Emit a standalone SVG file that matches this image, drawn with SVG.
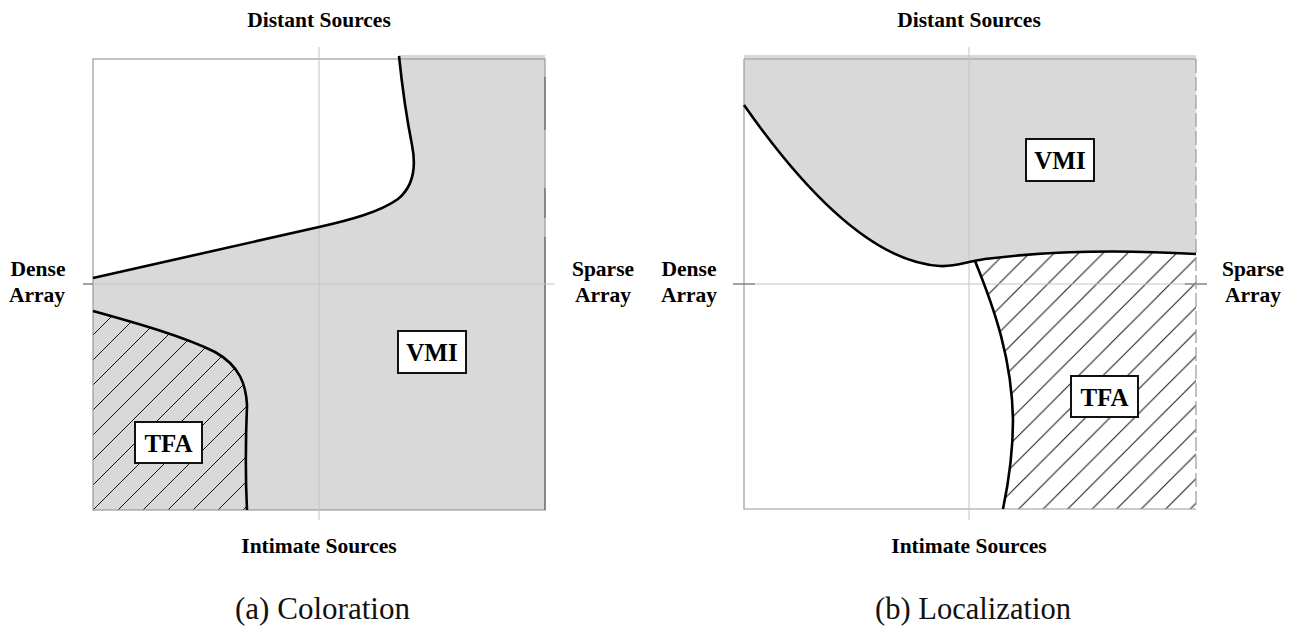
<svg xmlns="http://www.w3.org/2000/svg" width="1299" height="627" viewBox="0 0 1299 627">
<style>
.lbl{font-family:"Liberation Serif","Times New Roman",serif;font-weight:bold;font-size:21.5px;fill:#000;text-anchor:middle}
.tag{font-family:"Liberation Serif","Times New Roman",serif;font-weight:bold;font-size:25px;fill:#000;text-anchor:middle}
.cap{font-family:"Liberation Serif","Times New Roman",serif;font-size:31px;fill:#111;text-anchor:middle}
.frame{fill:none;stroke:#9a9a9a;stroke-width:1.2}
.axis{stroke:#c4c4c4;stroke-width:1;fill:none}
.tick{stroke:#777;stroke-width:1.2}
.gray{fill:#d9d9d9}
.bound{fill:none;stroke:#000;stroke-width:2.6;stroke-linecap:butt}
.box{fill:#fff;stroke:#111;stroke-width:2}
</style>
<defs>
<pattern id="hatchA" patternUnits="userSpaceOnUse" width="25" height="25" patternTransform="translate(3,0)">
<path d="M-5,5 L5,-5 M0,25 L25,0 M20,30 L30,20" stroke="#111" stroke-width="1"/>
</pattern>
<pattern id="hatchB" patternUnits="userSpaceOnUse" width="24.5" height="24.5" patternTransform="translate(8.7,0)">
<path d="M-5,5 L5,-5 M0,24.5 L24.5,0 M19.5,29.5 L29.5,19.5" stroke="#111" stroke-width="1"/>
</pattern>
</defs>
<rect width="1299" height="627" fill="#fff"/>

<!-- Plot (a) -->
<g id="plot-a">
  <g id="a-vmi-region">
    <path class="gray" d="M399,56 C402,85 407,120 412,145 C416,165 415,185 398,199 C380,212 350,220 319,227 L93,278 L93,510 L545,510 L545,55 L399,55 Z"/>
  </g>
  <g id="a-tfa-region">
    <path class="gray" d="M93,311 C140,324 185,337 215,352 C240,366 246,385 247,405 C246,430 245,470 247,510 L93,510 Z"/>
    <path fill="url(#hatchA)" d="M93,311 C140,324 185,337 215,352 C240,366 246,385 247,405 C246,430 245,470 247,510 L93,510 Z"/>
  </g>
  <rect class="frame" x="93" y="59" width="452" height="451"/>
  <path d="M545,77 V130 M545,188 V218 M545,237 V267 M545,267 V510" stroke="#666" stroke-width="1.2"/>
  <g id="a-axes">
    <line class="axis" x1="83" y1="284" x2="555" y2="284"/>
    <line class="axis" x1="319" y1="47" x2="319" y2="520"/>
    <line class="tick" x1="83" y1="284" x2="93" y2="284"/>
  </g>
  <g id="a-boundaries">
    <path class="bound" d="M399,56 C402,85 407,120 412,145 C416,165 415,185 398,199 C380,212 350,220 319,227 L93,278"/>
    <path class="bound" d="M93,311 C140,324 185,337 215,352 C240,366 246,385 247,405 C246,430 245,470 247,510"/>
  </g>
  <g id="a-vmi-label">
    <rect class="box" x="398" y="331" width="68" height="42"/>
    <text class="tag" x="432" y="361">VMI</text>
  </g>
  <g id="a-tfa-label">
    <rect class="box" x="135" y="422" width="67" height="41"/>
    <text class="tag" x="168.5" y="451.5">TFA</text>
  </g>
  <g id="a-texts">
    <text class="lbl" x="319" y="27">Distant Sources</text>
    <text class="lbl" x="319" y="553">Intimate Sources</text>
    <text class="lbl" x="38" y="276">Dense</text>
    <text class="lbl" x="37" y="302">Array</text>
    <text class="lbl" x="603" y="276">Sparse</text>
    <text class="lbl" x="603" y="302">Array</text>
    <text class="cap" x="322.5" y="619" textLength="175" lengthAdjust="spacingAndGlyphs">(a) Coloration</text>
  </g>
</g>

<!-- Plot (b) -->
<g id="plot-b">
  <g id="b-vmi-region">
    <path class="gray" d="M744,105 C800,185 870,262 940,266 C955,267 965,262 985,259 C1040,252 1110,249 1196,254 L1196,55 L744,55 Z"/>
  </g>
  <g id="b-tfa-region">
    <path fill="url(#hatchB)" d="M975,261 C995,310 1012,360 1013,420 C1013,455 1008,485 1003,509 L1196,509 L1196,254 C1110,249 1040,252 985,259 Z"/>
  </g>
  <path class="frame" d="M744,59 H1196 M744,59 V509 H1196"/>
  <line x1="1196" y1="59" x2="1196" y2="509" stroke="#9a9a9a" stroke-width="1.2" stroke-dasharray="14,4"/>
  <g id="b-axes">
    <line class="axis" x1="733" y1="284" x2="1207" y2="284"/>
    <line class="axis" x1="969" y1="47" x2="969" y2="520"/>
    <line class="tick" x1="733" y1="284" x2="755" y2="284"/>
    <line class="tick" x1="1185" y1="284" x2="1207" y2="284"/>
  </g>
  <g id="b-boundaries">
    <path class="bound" d="M744,105 C800,185 870,262 940,266 C955,267 965,262 985,259 C1040,252 1110,249 1196,254"/>
    <path class="bound" d="M975,261 C995,310 1012,360 1013,420 C1013,455 1008,485 1003,509"/>
  </g>
  <g id="b-vmi-label">
    <rect class="box" x="1026" y="139" width="68" height="42"/>
    <text class="tag" x="1060" y="169">VMI</text>
  </g>
  <g id="b-tfa-label">
    <rect class="box" x="1071" y="376" width="67" height="41"/>
    <text class="tag" x="1104.5" y="405.5">TFA</text>
  </g>
  <g id="b-texts">
    <text class="lbl" x="969" y="27">Distant Sources</text>
    <text class="lbl" x="969" y="553">Intimate Sources</text>
    <text class="lbl" x="689" y="276">Dense</text>
    <text class="lbl" x="689" y="302">Array</text>
    <text class="lbl" x="1253" y="276">Sparse</text>
    <text class="lbl" x="1253" y="302">Array</text>
    <text class="cap" x="973" y="619" textLength="196" lengthAdjust="spacingAndGlyphs">(b) Localization</text>
  </g>
</g>
</svg>
